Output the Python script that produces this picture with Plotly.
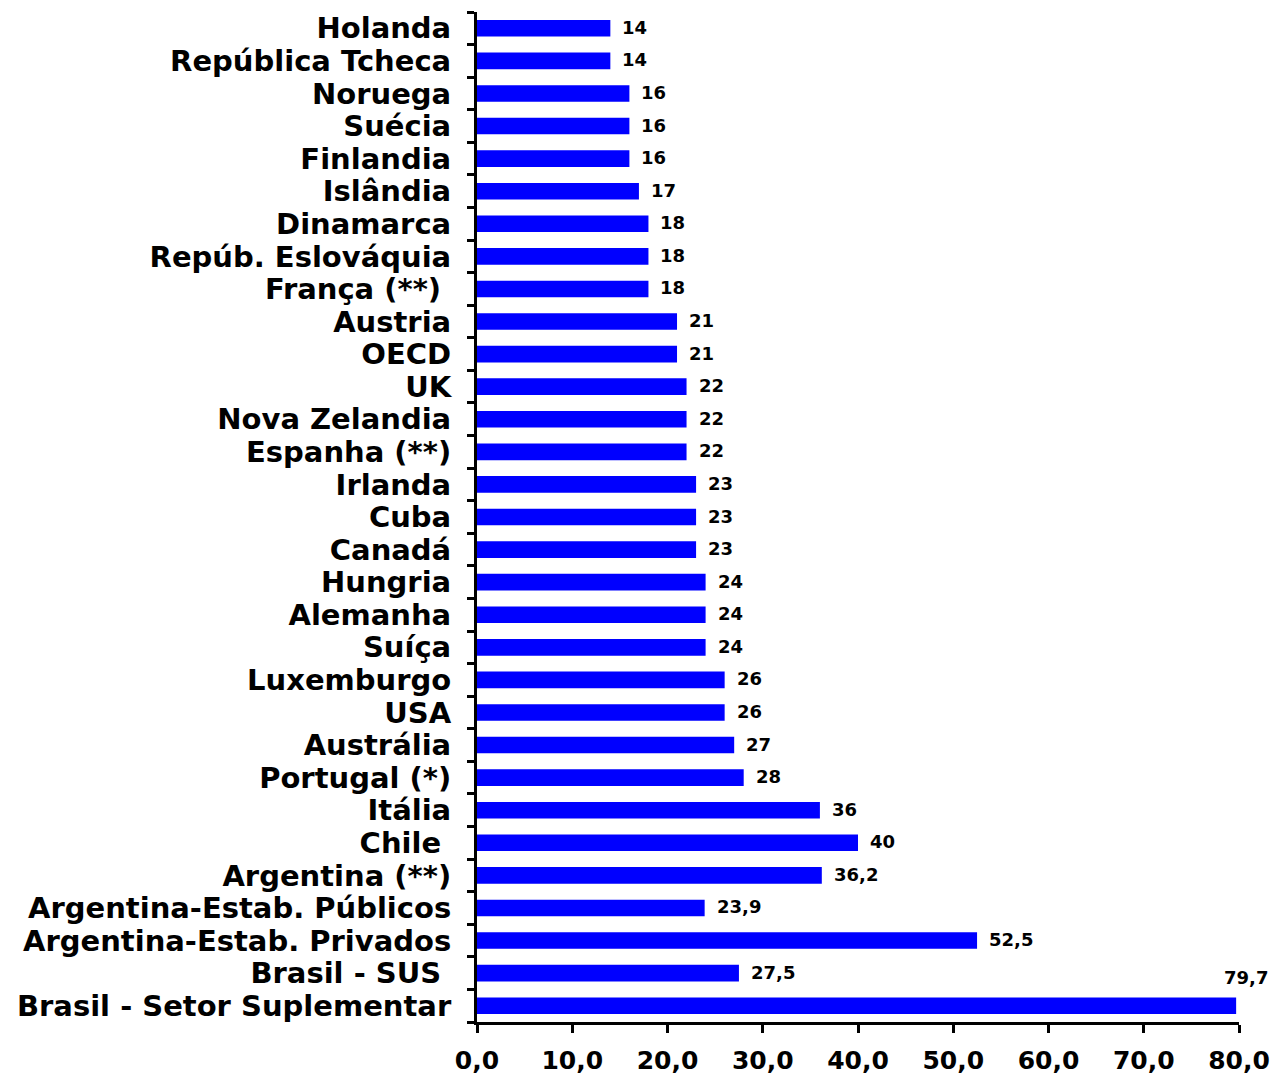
import plotly.graph_objects as go

categories = [
    "Holanda", "República Tcheca", "Noruega", "Suécia", "Finlandia", "Islândia",
    "Dinamarca", "Repúb. Eslováquia", "França (**)\u00a0", "Austria", "OECD", "UK",
    "Nova Zelandia", "Espanha (**)", "Irlanda", "Cuba", "Canadá", "Hungria",
    "Alemanha", "Suíça", "Luxemburgo", "USA", "Austrália", "Portugal (*)",
    "Itália", "Chile\u00a0", "Argentina (**)", "Argentina-Estab. Públicos",
    "Argentina-Estab. Privados", "Brasil - SUS\u00a0", "Brasil - Setor Suplementar",
]
values = [14, 14, 16, 16, 16, 17, 18, 18, 18, 21, 21, 22, 22, 22, 23, 23, 23,
          24, 24, 24, 26, 26, 27, 28, 36, 40, 36.2, 23.9, 52.5, 27.5, 79.7]
x_ticks = [0, 10, 20, 30, 40, 50, 60, 70, 80]
x_ticktext = ["0,0", "10,0", "20,0", "30,0", "40,0", "50,0", "60,0", "70,0", "80,0"]


def fmt(v):
    return str(int(v)) if float(v).is_integer() else str(v).replace(".", ",")


FONT = "DejaVu Sans"

fig = go.Figure(go.Bar(
    x=values, y=categories, orientation="h",
    marker=dict(color="#0000FF", line=dict(width=0)),
    hoverinfo="skip",
))

annotations = []
for c, v in zip(categories, values):
    near_end = v > 75
    annotations.append(dict(
        x=v, y=c, xref="x", yref="y", text="<b>" + fmt(v) + "</b>",
        showarrow=False,
        xanchor="left",
        yanchor="middle",
        xshift=-14 if near_end else 10,
        yshift=28 if near_end else 1,
        font=dict(family=FONT, size=18, color="black"),
    ))

n = len(categories)
fig.update_layout(
    width=1276, height=1076,
    margin=dict(l=477, r=37, t=12, b=54, autoexpand=False),
    paper_bgcolor="white", plot_bgcolor="white",
    bargap=0.49,
    showlegend=False,
    annotations=annotations,
    font=dict(family=FONT, color="black"),
)
fig.update_xaxes(
    range=[0, 80], tickmode="array", tickvals=x_ticks, ticktext=x_ticktext,
    automargin=False,
    showgrid=False, zeroline=False,
    showline=True, linecolor="black", linewidth=3,
    ticks="outside", ticklen=8, tickwidth=3, tickcolor="black",
    ticklabelstandoff=6,
    tickfont=dict(family=FONT, size=25, color="black", weight="bold"),
)
fig.update_yaxes(
    range=[n - 0.5, -0.5], categoryorder="array", categoryarray=categories,
    tickmode="array", tickvals=categories, ticktext=categories,
    automargin=False,
    showgrid=False, zeroline=False,
    showline=True, linecolor="black", linewidth=3,
    ticks="outside", tickson="boundaries", ticklen=7, tickwidth=3, tickcolor="black",
    ticklabelstandoff=17,
    tickfont=dict(family=FONT, size=29, color="black", weight="bold"),
)

fig.write_html("out.html")
